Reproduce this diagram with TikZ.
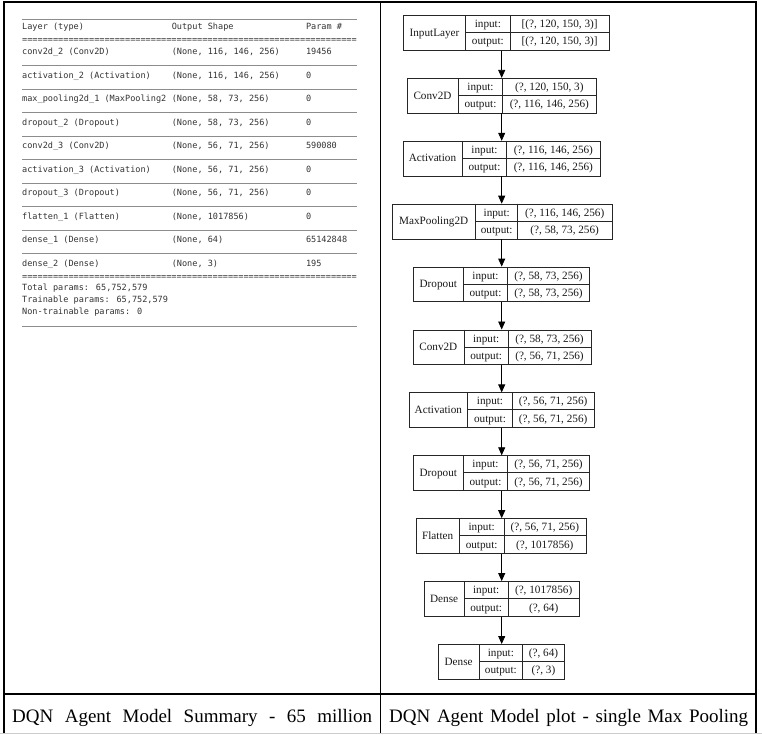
\documentclass[tikz,border=0pt]{standalone}
\usepackage{fontspec}
\setmainfont{Liberation Serif}
\newfontfamily\kerasmono{DejaVu Sans Mono}
\colorlet{TableText}{black!80}
\colorlet{TableRule}{black!45}
\colorlet{BoxLine}{black!85}
\usetikzlibrary{arrows.meta}
\tikzset{
    mono/.style={font=\kerasmono\fontsize{8.55}{10}\selectfont, text=TableText, inner sep=0pt, anchor=base west},
    rowrule/.style={draw=TableRule, line width=0.9pt},
    layerbox/.style={draw=BoxLine, line width=0.8pt, minimum height=34.8pt, inner sep=0pt, anchor=north west},
    cell/.style={font=\fontsize{11.2}{13}\selectfont, text=black!90, inner sep=0pt, anchor=base},
    flow/.style={-{Triangle[length=8pt, width=7pt]}, line width=0.8pt},
    tableframe/.style={line width=1.2pt},
    captiontext/.style={font=\fontsize{19}{22}\selectfont, inner sep=0pt, anchor=base west}
}

\begin{document}
\begin{tikzpicture}[x=1pt, y=-1pt]
    \useasboundingbox (0,0) rectangle (762,735);

    % Marco de la tabla
    \draw[tableframe] (4,733) -- (4,2) -- (756,2) -- (756,733);
    \draw[tableframe] (380.7,2) -- (380.7,733);
    \draw[tableframe] (4,694) -- (756,694);
    \draw[black!20, line width=1pt] (0,733.5) -- (762,733.5);

    % Resumen del modelo
    \draw[rowrule] (22,19.3) -- (357,19.3);
    \node[mono] (hdlayer) at (22,29.7) {Layer (type)};
    \node[mono] (hdshape) at (171.6,29.7) {Output Shape};
    \node[mono] (hdparam) at (305.8,29.7) {Param \#};
    \node[mono] (eqtop) at (22,43) {=================================================================};
    \foreach \lname/\lshape/\lparam [count=\i from 0] in {
        {conv2d\_2 (Conv2D)}/{(None, 116, 146, 256)}/19456,
        {activation\_2 (Activation)}/{(None, 116, 146, 256)}/0,
        {max\_pooling2d\_1 (MaxPooling2}/{(None, 58, 73, 256)}/0,
        {dropout\_2 (Dropout)}/{(None, 58, 73, 256)}/0,
        {conv2d\_3 (Conv2D)}/{(None, 56, 71, 256)}/590080,
        {activation\_3 (Activation)}/{(None, 56, 71, 256)}/0,
        {dropout\_3 (Dropout)}/{(None, 56, 71, 256)}/0,
        {flatten\_1 (Flatten)}/{(None, 1017856)}/0,
        {dense\_1 (Dense)}/{(None, 64)}/65142848,
        {dense\_2 (Dense)}/{(None, 3)}/195}{
        \pgfmathsetmacro\ry{54.5+23.55*\i}
        \node[mono] (row\i) at (22,\ry) {\lname};
        \node[mono] (shape\i) at (171.6,\ry) {\lshape};
        \node[mono] (param\i) at (305.8,\ry) {\lparam};
    }
    \foreach \i in {0,...,8}
        \draw[rowrule] (22,{65.5+23.55*\i}) -- (357,{65.5+23.55*\i});
    \node[mono] (eqbot) at (22,279) {=================================================================};
    \node[mono] (total) at (22,290.7) {Total params: 65,752,579};
    \node[mono] (trainable) at (22,302.3) {Trainable params: 65,752,579};
    \node[mono] (nontrainable) at (22,314.3) {Non-trainable params: 0};
    \draw[rowrule] (22,326) -- (357,326);

    % Diagrama de capas
    \coordinate (axis) at (501.7,0);
    \foreach \xa/\xb/\xc/\xd/\lab/\vin/\vout [count=\i from 0] in {
        403.3/465.7/510/609.3/InputLayer/{[(?, 120, 150, 3)]}/{[(?, 120, 150, 3)]},
        406.7/458.3/502.7/596/Conv2D/{(?, 120, 150, 3)}/{(?, 116, 146, 256)},
        402.7/462.3/506.7/600/Activation/{(?, 116, 146, 256)}/{(?, 116, 146, 256)},
        391.7/475.7/517.7/611.7/MaxPooling2D/{(?, 116, 146, 256)}/{(?, 58, 73, 256)},
        413.3/463.3/507.7/589.3/Dropout/{(?, 58, 73, 256)}/{(?, 58, 73, 256)},
        412.7/464/508.3/590.7/Conv2D/{(?, 58, 73, 256)}/{(?, 56, 71, 256)},
        409/467.7/512.3/594/Activation/{(?, 56, 71, 256)}/{(?, 56, 71, 256)},
        413.3/463.3/507.7/589.3/Dropout/{(?, 56, 71, 256)}/{(?, 56, 71, 256)},
        416/459.3/504/585.7/Flatten/{(?, 56, 71, 256)}/{(?, 1017856)},
        424.3/464/508.3/579/Dense/{(?, 1017856)}/{(?, 64)},
        438.3/479/522.7/564.3/Dense/{(?, 64)}/{(?, 3)}}{
        \pgfmathsetmacro\yt{15+62.9*\i}
        \node[layerbox, minimum width={(\xd-\xa)*1pt}] (L\i) at (\xa,\yt) {};
        \draw[BoxLine, line width=0.8pt] (\xb,\yt) -- (\xb,{\yt+34.8})
            (\xc,\yt) -- (\xc,{\yt+34.8})
            (\xb,{\yt+17.4}) -- (\xd,{\yt+17.4});
        \node[cell] (L\i-name) at ({(\xa+\xb)/2},{\yt+21.2}) {\lab};
        \node[cell] (L\i-inlab) at ({(\xb+\xc)/2},{\yt+12.5}) {input:};
        \node[cell] (L\i-in) at ({(\xc+\xd)/2},{\yt+12.5}) {\vin};
        \node[cell] (L\i-outlab) at ({(\xb+\xc)/2},{\yt+29.9}) {output:};
        \node[cell] (L\i-out) at ({(\xc+\xd)/2},{\yt+29.9}) {\vout};
    }
    \foreach \i [count=\j from 1] in {0,...,9}
        \draw[flow] (L\i.south -| axis) -- (L\j.north -| axis);

    % Leyendas
    \node[captiontext] (capleft) at (12,722) {\makebox[360pt][s]{DQN Agent Model Summary - 65 million}};
    \node[captiontext] (capright) at (389,722) {\makebox[359pt][s]{DQN Agent Model plot - single Max Pooling}};

\end{tikzpicture}
\end{document}
